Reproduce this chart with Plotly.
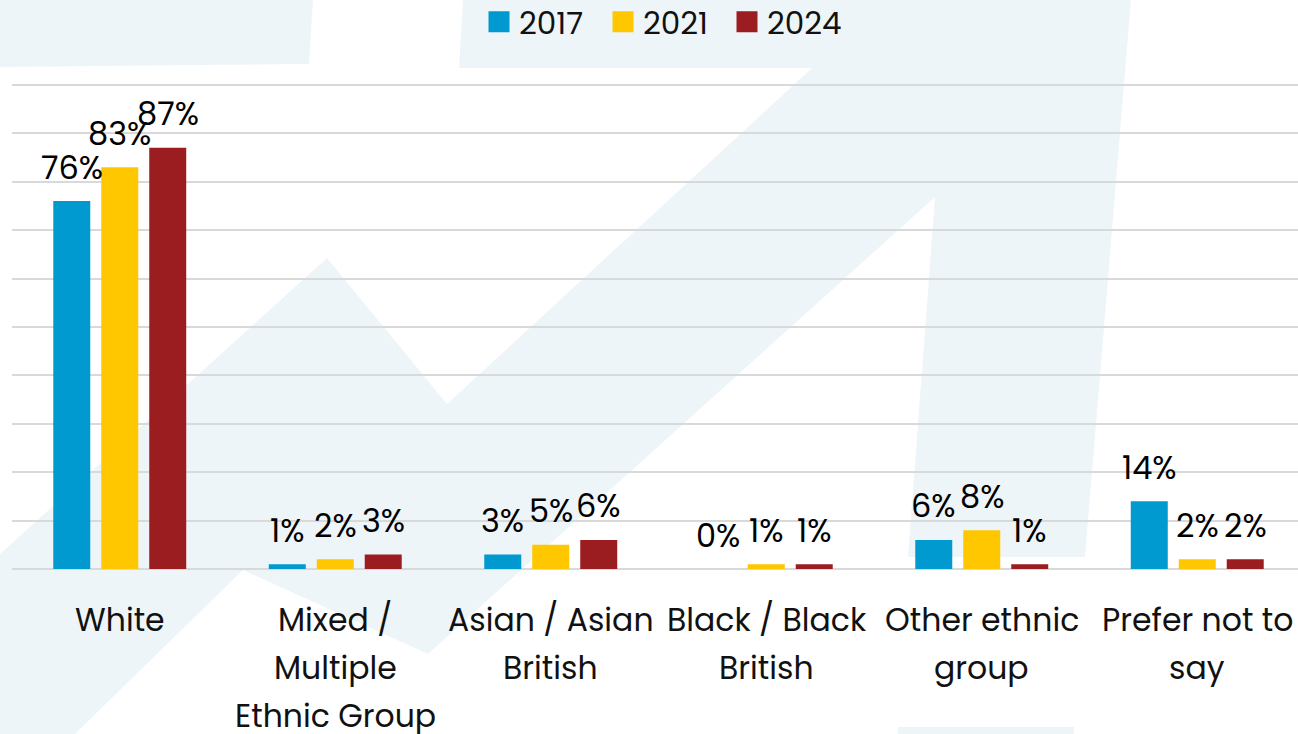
import plotly.graph_objects as go

categories = ["White", "Mixed / Multiple Ethnic Group", "Asian / Asian British",
              "Black / Black British", "Other ethnic group", "Prefer not to say"]
label_lines = [["White"], ["Mixed /", "Multiple", "Ethnic Group"], ["Asian / Asian", "British"],
               ["Black / Black", "British"], ["Other ethnic", "group"], ["Prefer not to", "say"]]
years = ["2017", "2021", "2024"]
v2017 = [76, 1, 3, 0, 6, 14]
v2021 = [83, 2, 5, 1, 8, 2]
v2024 = [87, 3, 6, 1, 1, 2]
series = [v2017, v2021, v2024]
colors = ["#0099D0", "#FFC700", "#9B1D20"]

FONT = "Poppins, 'Open Sans', sans-serif"
W, H = 1298, 734
L, R, T, B = 12, 0, 80, 165
PW, PH = W - L - R, H - T - B
BARGAP = 0.332
BARGROUPGAP = 0.229

def px(x):
    return (x - L) / PW

def py(y):
    return (H - B - y) / PH

fig = go.Figure()
for name, vals, col in zip(years, series, colors):
    fig.add_trace(go.Bar(x=categories, y=vals, name=name, marker_color=col,
                         marker_line_width=0, showlegend=False, hoverinfo="x+y"))
    fig.add_trace(go.Scatter(x=[None], y=[None], mode="markers", name=name,
                             marker=dict(symbol="square", size=16, color=col,
                                         line=dict(width=5, color=col))))

annotations = []
slot = (1 - BARGAP) / 3
for j, vals in enumerate(series):
    for i, v in enumerate(vals):
        annotations.append(dict(x=i + (j - 1) * slot, y=v, xref="x", yref="y",
                                text=f"{v}%", showarrow=False, yanchor="middle",
                                yshift=34, font=dict(size=32, color="#000000", family=FONT)))
for i, lines in enumerate(label_lines):
    for k, line in enumerate(lines):
        annotations.append(dict(x=i, y=0, xref="x", yref="paper", text=line,
                                showarrow=False, yanchor="middle", yshift=-51 - 48 * k,
                                font=dict(size=31.5, color="#111111", family=FONT)))

wm = "#EEF5F9"
polys = [
    [(0, 0), (313, 0), (309, 64), (0, 67)],
    [(447, 404), (812, 68), (459, 68), (463, 0), (1131, 0), (1085, 557), (908, 557),
     (935, 197), (428, 654), (243, 570), (75, 734), (0, 734), (0, 554), (327, 258)],
    [(898, 727), (1074, 727), (1074, 734), (898, 734)],
]
shapes = []
for poly in polys:
    path = "M " + " L ".join(f"{px(x):.5f},{py(y):.5f}" for x, y in poly) + " Z"
    shapes.append(dict(type="path", path=path, xref="paper", yref="paper",
                       fillcolor=wm, line_width=0, layer="below"))

fig.update_layout(
    width=W, height=H,
    margin=dict(l=L, r=R, t=T, b=B, pad=0, autoexpand=False),
    paper_bgcolor="white", plot_bgcolor="rgba(0,0,0,0)",
    barmode="group", bargap=BARGAP, bargroupgap=BARGROUPGAP,
    font=dict(family=FONT, color="#111111"),
    legend=dict(orientation="h", x=px(665), xanchor="center", y=py(22), yanchor="middle",
                font=dict(size=31, family=FONT), bgcolor="rgba(0,0,0,0)",
                itemwidth=30, entrywidth=79, traceorder="normal"),
    annotations=annotations,
    shapes=shapes,
    xaxis=dict(showticklabels=False, showgrid=False, showline=False, ticks="",
               range=[-0.5, 5.5 + (W - 1305) / 215.5]),
    yaxis=dict(range=[0, 101], dtick=10, showticklabels=False, showgrid=True,
               gridcolor="#D9D9D9", gridwidth=1.5, zeroline=True,
               zerolinecolor="#D9D9D9", zerolinewidth=1.5, ticks=""),
    showlegend=True,
)

fig.write_html("out.html", config={"displayModeBar": False},
               post_script="document.body.style.margin='0';")
